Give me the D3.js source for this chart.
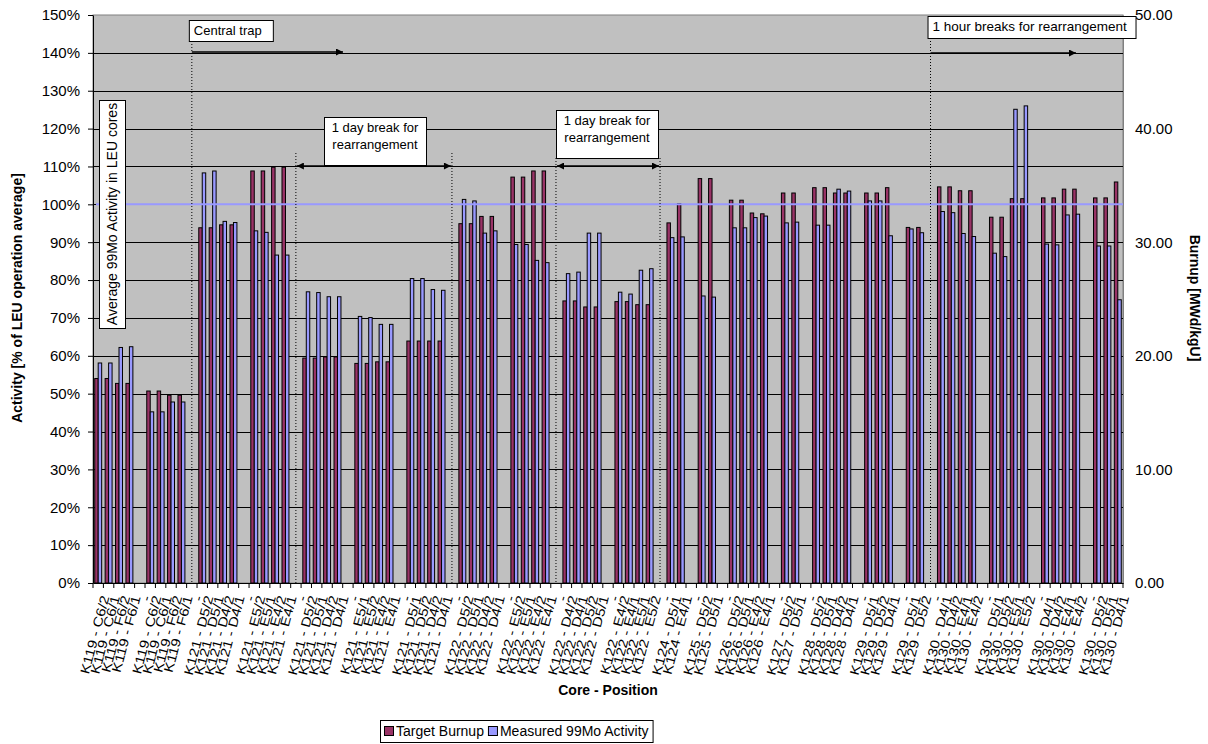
<!DOCTYPE html>
<html>
<head>
<meta charset="utf-8">
<script src="https://cdn.jsdelivr.net/npm/d3@7/dist/d3.min.js"></script>
<style>
  html, body { margin: 0; padding: 0; background: #fff; }
  svg { display: block; font-family: "Liberation Sans", Arial, sans-serif; }
</style>
</head>
<body>
<svg id="chart" width="1208" height="744"></svg>
<script>
// ---------------- DATA ----------------
const G = " - "; // empty separator category
const categories = [
  "K119 - C6/2","K119 - C6/1","K119 - F6/2","K119 - F6/1", G,
  "K119 - C6/2","K119 - C6/1","K119 - F6/2","K119 - F6/1", G,
  "K121 - D5/2","K121 - D5/1","K121 - D4/2","K121 - D4/1", G,
  "K121 - E5/2","K121 - E5/1","K121 - E4/2","K121 - E4/1", G,
  "K121 - D5/2","K121 - D5/1","K121 - D4/2","K121 - D4/1", G,
  "K121 - E5/1","K121 - E5/2","K121 - E4/2","K121 - E4/1", G,
  "K121 - D5/1","K121 - D5/2","K121 - D4/2","K121 - D4/1", G,
  "K122 - D5/2","K122 - D5/1","K122 - D4/2","K122 - D4/1", G,
  "K122 - E5/2","K122 - E5/1","K122 - E4/2","K122 - E4/1", G,
  "K122 - D4/2","K122 - D4/1","K122 - D5/2","K122 - D5/1", G,
  "K122 - E4/2","K122 - E4/1","K122 - E5/1","K122 - E5/2", G,
  "K124 - D5/1","K124 - E4/1", G,
  "K125 - D5/2","K125 - D5/1", G,
  "K126 - D5/2","K126 - D5/1","K126 - E4/2","K126 - E4/1", G,
  "K127 - D5/2","K127 - D5/1", G,
  "K128 - D5/2","K128 - D5/1","K128 - D4/2","K128 - D4/1", G,
  "K129 - D5/1","K129 - D5/2","K129 - D4/1", G,
  "K129 - D5/1","K129 - D5/2", G,
  "K130 - D4/1","K130 - D4/2","K130 - E4/1","K130 - E4/2", G,
  "K130 - D5/1","K130 - D5/2","K130 - E5/1","K130 - E5/2", G,
  "K130 - D4/1","K130 - D4/2","K130 - E4/1","K130 - E4/2", G,
  "K130 - D5/2","K130 - D5/1","K130 - D4/1"
];

// Target Burnup [MWd/kgU] (right axis)
const targetBurnup = [
  18.00,18.00,17.57,17.57, null,
  16.90,16.90,16.53,16.53, null,
  31.27,31.27,31.53,31.53, null,
  36.27,36.27,36.60,36.60, null,
  19.80,19.80,19.90,19.90, null,
  19.33,19.33,19.47,19.47, null,
  21.30,21.30,21.30,21.30, null,
  31.63,31.63,32.27,32.27, null,
  35.73,35.73,36.27,36.27, null,
  24.83,24.83,24.30,24.30, null,
  24.77,24.77,24.50,24.50, null,
  31.70,33.40, null,
  35.60,35.60, null,
  33.70,33.70,32.57,32.50, null,
  34.33,34.33, null,
  34.80,34.80,34.33,34.33, null,
  34.33,34.33,34.80, null,
  31.30,31.30, null,
  34.87,34.87,34.53,34.53, null,
  32.20,32.20,33.83,33.83, null,
  33.90,33.90,34.67,34.67, null,
  33.90,33.90,35.30
];

// Measured 99Mo Activity [% of LEU operation average] (left axis)
const measuredActivity = [
  58.1,58.1,62.2,62.4, null,
  45.2,45.2,47.8,47.8, null,
  108.3,108.8,95.5,95.2, null,
  93.0,92.6,86.6,86.6, null,
  76.9,76.7,75.6,75.6, null,
  70.4,70.1,68.3,68.3, null,
  80.4,80.4,77.5,77.3, null,
  101.3,100.9,92.4,93.0, null,
  89.4,89.4,85.2,84.6, null,
  81.7,82.1,92.4,92.4, null,
  76.8,76.3,82.6,83.0, null,
  91.2,91.4, null,
  75.8,75.5, null,
  93.8,93.8,96.5,96.9, null,
  95.1,95.3, null,
  94.5,94.5,104.0,103.5, null,
  100.9,100.9,91.7, null,
  93.5,92.5, null,
  98.1,97.8,92.3,91.5, null,
  87.1,86.2,125.1,126.0, null,
  89.5,89.3,97.2,97.4, null,
  89.0,89.0,74.8
];

const leftTicks = [0,10,20,30,40,50,60,70,80,90,100,110,120,130,140,150];
const rightTicks = [0,10,20,30,40,50];
const averageActivity = 100;
const seriesNames = ["Target Burnup", "Measured 99Mo Activity"];
const seriesColors = ["#993366", "#9999FF"];

// separator categories where the dotted markers sit
const breakMarks = [9, 19, 34, 44, 54, 80];

// ---------------- LAYOUT ----------------
const svg = d3.select("#chart");
const m = { left: 93, right: 1123, top: 15, bottom: 583 };
const FONT = '"Liberation Sans", Arial, sans-serif';

const x = d3.scaleBand()
  .domain(d3.range(categories.length))
  .range([m.left, m.right])
  .paddingInner(0).paddingOuter(0);
const yL = d3.scaleLinear().domain([0, 150]).range([m.bottom, m.top]);
const yR = d3.scaleLinear().domain([0, 50]).range([m.bottom, m.top]);
const bw = x.bandwidth() / 3;
const xc = i => x(i) + x.bandwidth() / 2;

// plot background
svg.append("rect")
  .attr("x", m.left).attr("y", m.top)
  .attr("width", m.right - m.left).attr("height", m.bottom - m.top)
  .attr("fill", "#C0C0C0").attr("stroke", "#808080").attr("stroke-width", 1);

// gridlines
svg.append("g").selectAll("line")
  .data(leftTicks.filter(t => t > 0 && t < 150))
  .join("line")
  .attr("x1", m.left).attr("x2", m.right)
  .attr("y1", d => Math.round(yL(d)) + 0.5).attr("y2", d => Math.round(yL(d)) + 0.5)
  .attr("stroke", "#000").attr("stroke-width", 1);

// bars
const bars = svg.append("g");
bars.selectAll("rect.burn")
  .data(targetBurnup.map((v, i) => ({ v, i })).filter(d => d.v != null))
  .join("rect")
  .attr("class", "burn")
  .attr("x", d => x(d.i) + bw * 0.5)
  .attr("y", d => yR(d.v))
  .attr("width", bw)
  .attr("height", d => yR(0) - yR(d.v))
  .attr("fill", seriesColors[0]).attr("stroke", "#000").attr("stroke-width", 1);
bars.selectAll("rect.act")
  .data(measuredActivity.map((v, i) => ({ v, i })).filter(d => d.v != null))
  .join("rect")
  .attr("class", "act")
  .attr("x", d => x(d.i) + bw * 1.5)
  .attr("y", d => yL(d.v))
  .attr("width", bw)
  .attr("height", d => yL(0) - yL(d.v))
  .attr("fill", seriesColors[1]).attr("stroke", "#000").attr("stroke-width", 1);

// average line
svg.append("line")
  .attr("x1", m.left + 3).attr("x2", m.right)
  .attr("y1", yL(averageActivity)).attr("y2", yL(averageActivity))
  .attr("stroke", "#9999FF").attr("stroke-width", 2);

// left axis
const gL = svg.append("g").attr("transform", `translate(${m.left},0)`)
  .call(d3.axisLeft(yL).tickValues(leftTicks).tickFormat(d => d + "%").tickSize(5).tickPadding(8).tickSizeOuter(0));
gL.select(".domain").attr("stroke", "#000");
gL.selectAll("text").attr("font-size", 15).attr("font-family", FONT).attr("fill", "#000");

// right axis
const gR = svg.append("g").attr("transform", `translate(${m.right},0)`)
  .call(d3.axisRight(yR).tickValues(rightTicks).tickFormat(d3.format(".2f")).tickSize(0).tickPadding(12).tickSizeOuter(0));
gR.select(".domain").attr("stroke", "#808080");
gR.selectAll("text").attr("font-size", 15).attr("font-family", FONT).attr("fill", "#000");

// bottom axis: ticks at category boundaries, labels rotated
const gB = svg.append("g").attr("transform", `translate(0,${m.bottom})`)
  .call(d3.axisBottom(x).tickFormat(i => categories[i]).tickSize(0).tickSizeOuter(0));
gB.select(".domain").attr("stroke", "#000");
gB.selectAll(".tick text")
  .attr("font-size", 13).attr("font-family", FONT).attr("fill", "#000")
  .attr("text-anchor", "end")
  .attr("dy", "0.35em")
  .attr("transform", "translate(4,12) rotate(-75) scale(1.18,1)");
svg.append("g").selectAll("line")
  .data(d3.range(categories.length + 1))
  .join("line")
  .attr("x1", i => (i < categories.length ? x(i) : m.right))
  .attr("x2", i => (i < categories.length ? x(i) : m.right))
  .attr("y1", m.bottom).attr("y2", m.bottom + 5)
  .attr("stroke", "#000");

// dotted separators
const dotTops = [38, 153, 153, 158, 158, 38];
svg.append("g").selectAll("line")
  .data(breakMarks)
  .join("line")
  .attr("x1", i => xc(i)).attr("x2", i => xc(i))
  .attr("y1", (d, k) => dotTops[k]).attr("y2", m.bottom)
  .attr("stroke", "#000").attr("stroke-width", 1).attr("stroke-dasharray", "1,2");

// arrow markers
const defs = svg.append("defs");
defs.append("marker").attr("id", "ahEnd").attr("viewBox", "0 0 10 10")
  .attr("refX", 10).attr("refY", 5).attr("markerWidth", 10).attr("markerHeight", 7)
  .attr("markerUnits", "userSpaceOnUse").attr("orient", "auto")
  .append("path").attr("d", "M0,0 L10,5 L0,10 z").attr("fill", "#000");
defs.append("marker").attr("id", "ahStart").attr("viewBox", "0 0 10 10")
  .attr("refX", 0).attr("refY", 5).attr("markerWidth", 10).attr("markerHeight", 7)
  .attr("markerUnits", "userSpaceOnUse").attr("orient", "auto")
  .append("path").attr("d", "M10,0 L0,5 L10,10 z").attr("fill", "#000");

function arrow(x1, x2, y, both) {
  const l = svg.append("line").attr("x1", x1).attr("x2", x2).attr("y1", y).attr("y2", y)
    .attr("stroke", "#000").attr("stroke-width", 1.5).attr("marker-end", "url(#ahEnd)");
  if (both) l.attr("marker-start", "url(#ahStart)");
}
function box(x0, y0, w, h, lines, anchor, fs) {
  svg.append("rect").attr("x", x0 + 0.5).attr("y", y0 + 0.5).attr("width", w).attr("height", h)
    .attr("fill", "#fff").attr("stroke", "#000").attr("stroke-width", 1);
  const t = svg.append("text").attr("font-size", fs || 13).attr("font-family", FONT).attr("fill", "#000");
  lines.forEach((s, k) => {
    t.append("tspan")
      .attr("x", anchor === "middle" ? x0 + w / 2 : x0 + 5)
      .attr("y", y0 + 15 + k * 17)
      .attr("text-anchor", anchor === "middle" ? "middle" : "start")
      .text(s);
  });
}

// Central trap
box(xc(9) - 3, 20, 84, 21, ["Central trap"]);
arrow(xc(9), 343, 52, false);
// 1 day break #1
arrow(xc(19) + 1, xc(34) - 1, 166, true);
box(324, 117, 102, 48, ["1 day break for", "rearrangement"], "middle");
// 1 day break #2
arrow(xc(44) + 1, xc(54) - 1, 166, true);
box(556, 110, 102, 48, ["1 day break for", "rearrangement"], "middle");
// 1 hour breaks
box(xc(80) - 3, 16, 208, 22, ["1 hour breaks for rearrangement"], "start", 13.5);
arrow(xc(80), 1076, 53, false);

// vertical label box
svg.append("rect").attr("x", 99.5).attr("y", 100.5).attr("width", 26).attr("height", 228)
  .attr("fill", "#fff").attr("stroke", "#000");
svg.append("text")
  .attr("transform", "translate(117,214) rotate(-90)")
  .attr("text-anchor", "middle").attr("font-size", 14).attr("font-family", FONT)
  .text("Average 99Mo Activity in LEU cores");

// axis titles
svg.append("text")
  .attr("transform", "translate(22,298) rotate(-90)")
  .attr("text-anchor", "middle").attr("font-size", 14).attr("font-weight", "bold").attr("font-family", FONT)
  .text("Activity [% of LEU operation average]");
svg.append("text")
  .attr("transform", "translate(1190,298) rotate(90)")
  .attr("text-anchor", "middle").attr("font-size", 14).attr("font-weight", "bold").attr("font-family", FONT)
  .text("Burnup [MWd/kgU]");
svg.append("text")
  .attr("x", 608).attr("y", 695)
  .attr("text-anchor", "middle").attr("font-size", 14).attr("font-weight", "bold").attr("font-family", FONT)
  .text("Core - Position");

// legend
const lg = svg.append("g");
const lgBox = lg.append("rect").attr("y", 720.5).attr("height", 22)
  .attr("fill", "#fff").attr("stroke", "#000");
let lx = 384;
seriesNames.forEach((name, k) => {
  lg.append("rect").attr("x", lx + 0.5).attr("y", 726.5).attr("width", 9).attr("height", 9)
    .attr("fill", seriesColors[k]).attr("stroke", "#000");
  const t = lg.append("text").attr("x", lx + 12).attr("y", 736)
    .attr("font-size", 14).attr("font-family", FONT).text(name);
  lx += 12 + t.node().getComputedTextLength() + 4;
});
lgBox.attr("x", 380.5).attr("width", lx - 380);
</script>
</body>
</html>
